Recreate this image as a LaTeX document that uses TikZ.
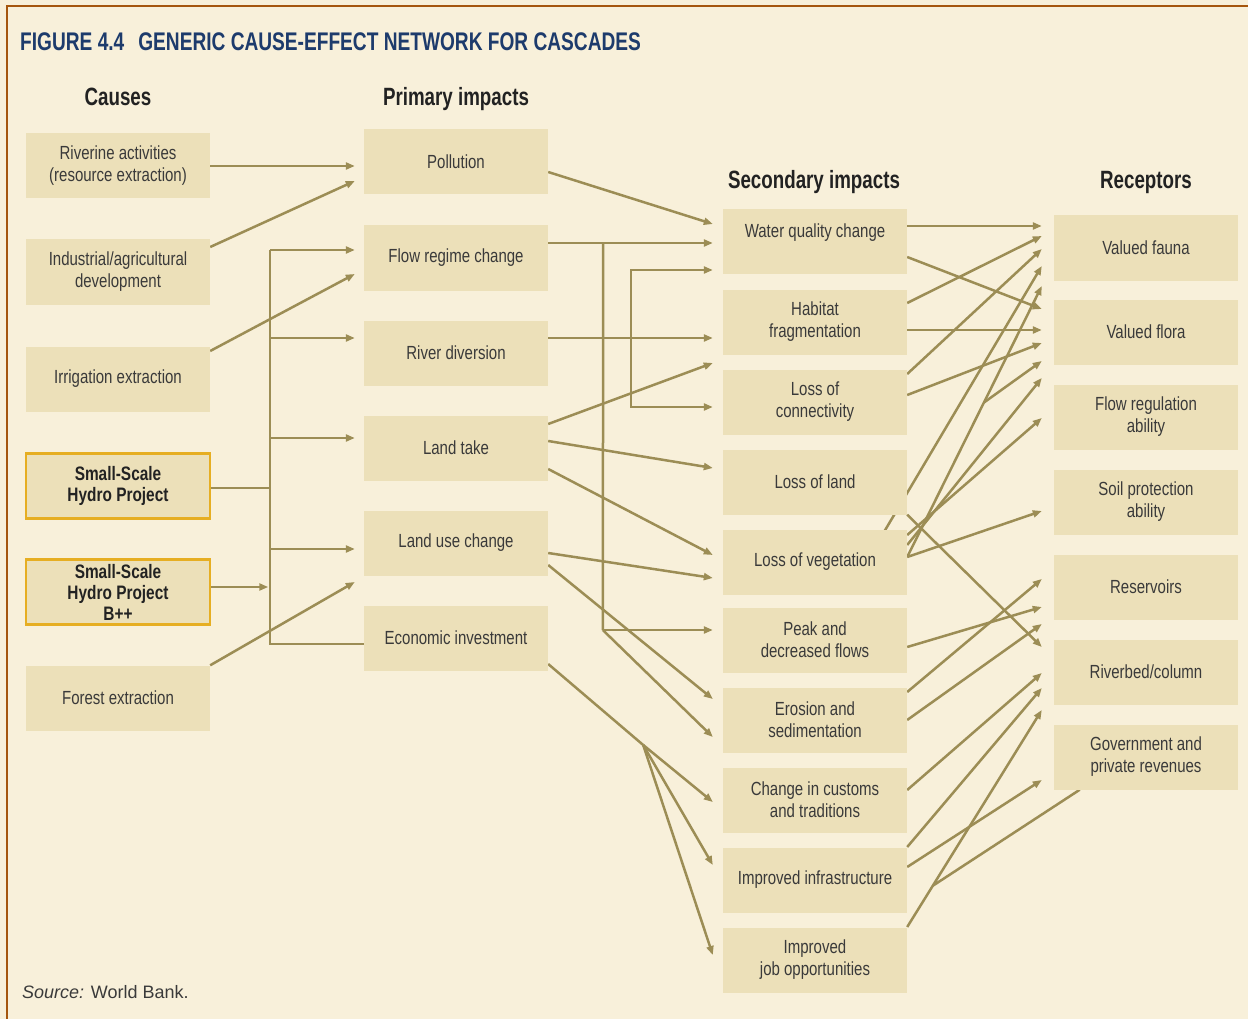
\documentclass[tikz,border=0pt]{standalone}
\usepackage{fontspec}
\setmainfont{Liberation Sans}[FakeStretch=0.79]
\newfontfamily\headfont{Liberation Sans}[FakeStretch=0.75]
\newfontfamily\sourcefont{Liberation Sans}
\usepackage{tikz}
\usetikzlibrary{calc}
\usetikzlibrary{arrows.meta}
\usetikzlibrary{backgrounds}

\definecolor{paper}{HTML}{F8F0DA}
\definecolor{boxfill}{HTML}{ECE0B9}
\definecolor{linecol}{HTML}{9C8D55}
\definecolor{hydroline}{HTML}{E6AE22}
\definecolor{titleblue}{HTML}{1D3B6C}
\definecolor{framecol}{HTML}{A5560E}
\definecolor{boxtext}{HTML}{3A3A3A}
\definecolor{headtext}{HTML}{222222}

\tikzset{
  box/.style={fill=boxfill, minimum width=184pt, minimum height=65pt, inner sep=0pt,
    align=center, text=boxtext, font=\fontsize{19}{22}\selectfont},
  hydro/.style={box, draw=hydroline, line width=2.5pt, text=headtext,
    font=\fontsize{19.5}{21}\selectfont\bfseries},
  colhead/.style={anchor=base, text=headtext, font=\headfont\bfseries\fontsize{25}{28}\selectfont},
  wire/.style={draw=linecol, line width=2.5pt},
  link/.style={wire, -{Triangle[length=9pt,width=7pt]}},
}

\begin{document}
\begin{tikzpicture}[x=1pt, y=-1pt]
\useasboundingbox (0,0) rectangle (1248,1019);
\begin{scope}[on background layer]
\fill[paper] (0,0) rectangle (1248,1019);
\end{scope}
\draw[framecol, line width=2pt] (7,1019) -- (7,6) -- (1248,6);

\node[anchor=west, inner sep=0pt, text=titleblue, font=\headfont\bfseries\fontsize{25.5}{28}\selectfont] (title) at (20,42)
  {FIGURE 4.4\hspace{14pt}GENERIC CAUSE-EFFECT NETWORK FOR CASCADES};
\node[colhead] (hcause) at (118,106) {Causes};
\node[colhead] (hprim) at (456,106) {Primary impacts};
\node[colhead] (hsec) at (814,189) {Secondary impacts};
\node[colhead] (hrec) at (1146,189) {Receptors};

% causes
\node[box] (riv) at (118,166) {Riverine activities\\(resource extraction)};
\node[box] (ind) at (118,272) {Industrial/agricultural\\development};
\node[box] (irr) at (118,379) {Irrigation extraction};
\node[hydro] (hyd) at (118,486) {Small-Scale\\Hydro Project};
\node[hydro] (hydb) at (118,592) {Small-Scale\\Hydro Project\\B++};
\node[box] (fore) at (118,698) {Forest extraction};

% primary impacts
\node[box] (poll) at (456,162) {Pollution};
\node[box] (flow) at (456,258) {Flow regime change};
\node[box] (div) at (456,353) {River diversion};
\node[box] (take) at (456,448) {Land take};
\node[box] (use) at (456,543) {Land use change};
\node[box] (econ) at (456,638) {Economic investment};

% secondary impacts
\node[box] (wq) at (815,242) {Water quality change\\\mbox{}};
\node[box] (hab) at (815,322) {Habitat\\fragmentation};
\node[box] (conn) at (815,402) {Loss of\\connectivity};
\node[box] (lland) at (815,482) {Loss of land};
\node[box] (lveg) at (815,562) {Loss of vegetation};
\node[box] (peak) at (815,640) {Peak and\\decreased flows};
\node[box] (eros) at (815,720) {Erosion and\\sedimentation};
\node[box] (cust) at (815,800) {Change in customs\\and traditions};
\node[box] (infra) at (815,880) {Improved infrastructure};
\node[box] (job) at (815,960) {Improved\\job opportunities};

% receptors
\node[box] (fauna) at (1146,248) {Valued fauna};
\node[box] (flora) at (1146,332) {Valued flora};
\node[box] (flreg) at (1146,417) {Flow regulation\\ability};
\node[box] (soil) at (1146,502) {Soil protection\\ability};
\node[box] (res) at (1146,587) {Reservoirs};
\node[box] (bed) at (1146,672) {Riverbed/column};
\node[box] (gov) at (1146,757) {Government and\\private revenues};

\node[anchor=base west, inner sep=0pt, text=boxtext, font=\sourcefont\fontsize{18}{20}\selectfont] (src) at (22,998)
  {\textit{Source:} World Bank.};

\begin{scope}[on background layer]
\draw[link] (riv.east) -- ($(poll.west)+(-9,4)$);
\draw[link] ($(ind.east)+(0,-25)$) -- ($(poll.west)+(-9,19)$);
\draw[link] ($(irr.east)+(0,-28)$) -- ($(flow.west)+(-9,16)$);
\draw[link] (fore.north east) -- ($(use.west)+(-9,39)$);
\draw[wire] ($(hyd.east)+(0,2)$) -- ++(60,0);
\draw[link] ($(hydb.east)+(0,-5)$) -- ++(57,0);
\draw[wire] ($(flow.west)+(-94,-8)$) |- ($(econ.west)+(0,6)$);
\foreach \n/\d in {flow/-8,div/-15,take/-10,use/6}
  \draw[link] ($(\n.west)+(-94,\d)$) -- ($(\n.west)+(-9,\d)$);

\draw[link] ($(poll.east)+(0,10)$) -- ($(wq.west)+(-10,-18)$);
\draw[link] ($(flow.east)+(0,-15)$) -- ($(wq.west)+(-10,1)$);
\draw[wire] ($(flow.east)+(55,-15)$) -- ($(peak.west)+(-120,-10)$);
\draw[link] ($(peak.west)+(-120,-10)$) -- ($(peak.west)+(-10,-10)$);
\draw[link] ($(peak.west)+(-120,-10)$) -- ($(eros.west)+(-10,17)$);
\draw[link] ($(div.east)+(0,-15)$) -- ($(hab.west)+(-10,16)$);
\draw[link] ($(div.east)+(83,-15)$) |- ($(wq.west)+(-10,28)$);
\draw[link] ($(div.east)+(83,-15)$) |- ($(conn.west)+(-10,5)$);
\draw[link] ($(take.east)+(0,-24)$) -- ($(conn.west)+(-10,-39)$);
\draw[link] ($(take.east)+(0,-7)$) -- ($(lland.west)+(-10,-14)$);
\draw[link] ($(take.east)+(0,21)$) -- ($(lveg.west)+(-10,-7)$);
\draw[link] ($(use.east)+(0,10)$) -- ($(lveg.west)+(-10,16)$);
\draw[link] ($(use.east)+(0,22)$) -- ($(eros.west)+(-10,-21)$);
\coordinate (fan) at ($(econ.east)+(95,107)$);
\draw[wire] ($(econ.east)+(0,26)$) -- (fan);
\foreach \n/\d in {cust/2,infra/-15,job/-5}
  \draw[link] (fan) -- ($(\n.west)+(-10,\d)$);

\foreach \a/\da/\b/\db in {wq/-16/fauna/-22, wq/15/flora/-23, hab/-19/fauna/-12, hab/8/flora/-2,
    conn/-28/fauna/1, conn/-7/flora/11, lveg/-5/fauna/38, lveg/-17/flora/46, lveg/-27/flreg/1,
    lveg/-5/soil/9, peak/7/res/20, eros/-28/res/-8, eros/0/res/37, cust/-10/bed/1,
    infra/-33/bed/16, job/-33/bed/38, infra/-13/gov/23}
  \draw[link] ($(\a.east)+(0,\da)$) -- ($(\b.west)+(-12,\db)$);
\draw[link] ($(lveg.east)+(-41,0)$) -- ($(fauna.west)+(-12,18)$);
\draw[link] (lland.south east) -- ($(bed.west)+(-12,-25)$);
\coordinate (v1) at ($(lveg.east)+(0,-5)$);
\coordinate (v2) at ($(fauna.west)+(-12,38)$);
\draw[link] ($(v1)!0.57!(v2)$) -- ($(flora.west)+(-12,29)$);
\coordinate (j1) at ($(job.east)+(0,-33)$);
\coordinate (j2) at ($(bed.west)+(-12,38)$);
\draw[wire] ($(gov.south west)+(26,0)$) -- ($(j1)!0.19!(j2)$);
\end{scope}
\end{tikzpicture}
\end{document}
